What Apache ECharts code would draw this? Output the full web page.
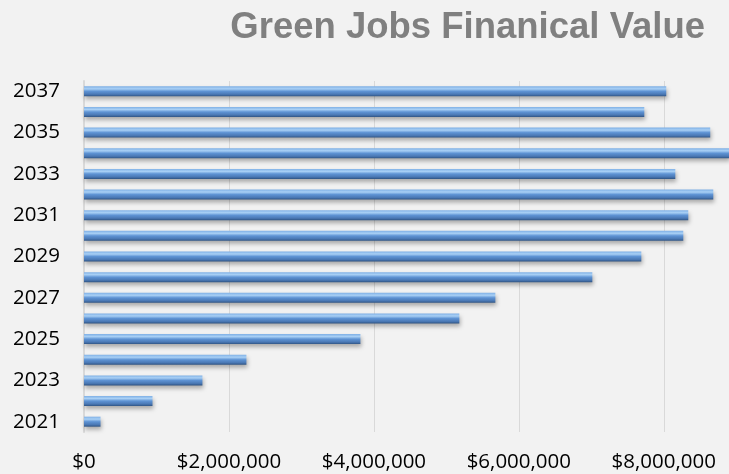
<!DOCTYPE html>
<html><head><meta charset="utf-8">
<script src="https://cdn.jsdelivr.net/npm/echarts@6/dist/echarts.min.js"></script>
<style>html,body{margin:0;padding:0;background:#f2f2f2;}#c{width:729px;height:474px;}</style>
</head><body><div id="c"></div>
<script>
const years = ['2021','2022','2023','2024','2025','2026','2027','2028','2029','2030','2031','2032','2033','2034','2035','2036','2037'];
const values = [228000, 945000, 1634000, 2241000, 3814000, 5179000, 5676000, 7014000, 7690000, 8269000, 8338000, 8683000, 8159000, 8950000, 8641000, 7731000, 8034000];
const xTicks = [0, 2000000, 4000000, 6000000, 8000000];
const title = 'Green Jobs Finanical Value';

const chart = echarts.init(document.getElementById('c'), null, {renderer: 'canvas'});
function fmt(v){ return '$' + v.toLocaleString('en-US'); }
chart.setOption({
  backgroundColor: '#f2f2f2',
  animation: false,
  title: {
    text: title, right: 19, top: 4,
    textStyle: {fontFamily: 'Liberation Sans', fontWeight: 'bold', fontSize: 36.5, color: '#808080'}
  },
  grid: {left: 84, right: 0, top: 81, bottom: 42, containLabel: false},
  xAxis: {
    type: 'value', min: 0, max: 8900000, interval: 2000000,
    axisLine: {show: false}, axisTick: {show: false},
    splitLine: {lineStyle: {color: '#d9d9d9', width: 1}},
    axisLabel: {
      showMaxLabel: false, margin: 20,
      fontFamily: 'Open Sans', fontSize: 20.5, color: '#000',
      formatter: v => xTicks.indexOf(v) >= 0 ? fmt(v) : ''
    }
  },
  yAxis: {
    type: 'category', data: years,
    axisLine: {show: true, lineStyle: {color: '#d9d9d9', width: 2}},
    axisTick: {show: false},
    axisLabel: {interval: 1, margin: 24, fontFamily: 'Open Sans', fontSize: 20.5, color: '#000'}
  },
  series: [{
    type: 'bar', data: values, barWidth: 10,
    itemStyle: {
      color: new echarts.graphic.LinearGradient(0, 0, 0, 1, [
        {offset: 0, color: '#7fb0e6'},
        {offset: 0.25, color: '#a9d0f5'},
        {offset: 0.5, color: '#5e93d4'},
        {offset: 0.8, color: '#4a78b4'},
        {offset: 1, color: '#2f5484'}
      ]),
      shadowColor: 'rgba(0,0,0,0.3)', shadowBlur: 4, shadowOffsetY: 3, shadowOffsetX: 1
    }
  }]
});
</script></body></html>
